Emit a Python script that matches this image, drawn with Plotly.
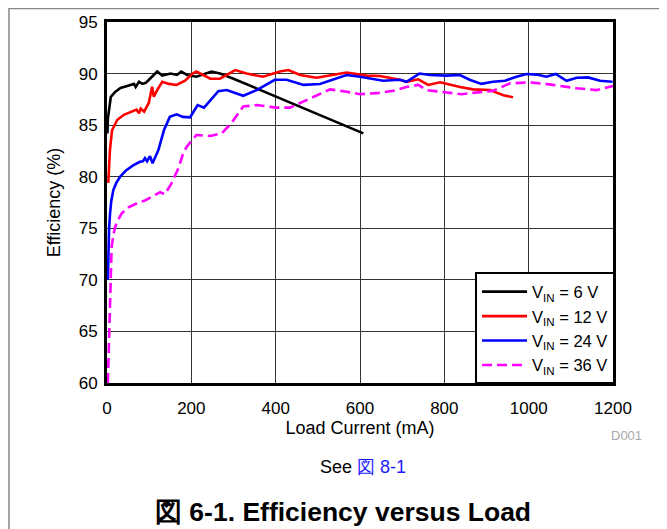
import plotly.graph_objects as go

# ---- data ----
x_6v = [1, 2, 5, 9, 20, 32, 48, 64, 68, 76, 84, 92, 103, 119, 131, 151, 166, 176, 190, 212, 248, 268, 300, 608]
y_6v = [84.2, 85.6, 86.5, 87.75, 88.25, 88.6, 88.8, 89.0, 88.7, 89.2, 89.0, 89.1, 89.55, 90.2, 89.8, 90.0, 89.87, 90.2, 89.87, 89.7, 90.2, 90.0, 89.5, 84.2]

x_12v = [3, 7, 12, 24, 40, 60, 70, 76, 80, 88, 99, 107, 111, 119, 131, 147, 165, 185, 203, 212, 245, 268, 304, 331, 370, 410, 430, 458, 497, 568, 616, 647, 695, 710, 738, 762, 790, 837, 868, 908, 940, 963]
y_12v = [79.4, 82.6, 84.5, 85.5, 86.0, 86.3, 86.5, 86.15, 86.6, 86.3, 87.15, 88.73, 87.76, 88.4, 89.2, 89.0, 88.9, 89.3, 90.0, 90.2, 89.5, 89.5, 90.34, 90.0, 89.7, 90.2, 90.34, 89.86, 89.6, 90.1, 89.8, 89.76, 89.4, 89.2, 89.44, 88.9, 89.15, 88.7, 88.47, 88.4, 87.9, 87.7]

x_24v = [2, 3, 5, 7, 10, 15, 22, 31, 45, 62, 78, 85, 90, 95, 102, 108, 122, 135, 149, 165, 180, 197, 215, 230, 264, 284, 323, 355, 398, 426, 466, 505, 537, 568, 600, 655, 695, 710, 741, 766, 805, 837, 860, 888, 915, 944, 971, 995, 1019, 1042, 1064, 1090, 1114, 1141, 1169, 1199]
y_24v = [70.0, 72.5, 75.0, 76.3, 77.6, 78.7, 79.4, 80.0, 80.6, 81.1, 81.45, 81.5, 81.8, 81.5, 82.0, 81.3, 82.6, 84.5, 85.8, 86.05, 85.8, 85.76, 86.95, 86.7, 88.3, 88.4, 87.85, 88.4, 89.4, 89.4, 88.9, 88.99, 89.4, 89.86, 89.7, 89.3, 89.4, 89.2, 90.0, 89.86, 89.8, 89.86, 89.4, 89.0, 89.2, 89.3, 89.7, 89.96, 89.9, 89.7, 89.96, 89.3, 89.6, 89.63, 89.3, 89.2]

x_36v = [2, 4, 5, 6, 7, 9, 11, 15, 19, 26, 35, 50, 70, 90, 114, 126, 137, 153, 169, 181, 189, 212, 245, 272, 295, 323, 355, 402, 434, 466, 497, 529, 568, 600, 639, 679, 710, 738, 758, 798, 841, 885, 916, 956, 1003, 1050, 1114, 1161, 1200]
y_36v = [60.0, 63.0, 65.1, 67.5, 69.6, 71.5, 73.2, 74.3, 75.1, 75.8, 76.45, 77.0, 77.4, 77.7, 78.2, 78.5, 78.3, 79.35, 80.8, 82.3, 82.9, 84.04, 83.95, 84.2, 85.2, 86.8, 86.95, 86.7, 86.7, 87.3, 87.9, 88.47, 88.24, 88.0, 88.1, 88.34, 88.7, 88.9, 88.4, 88.24, 88.0, 88.2, 88.34, 89.05, 89.15, 88.95, 88.57, 88.4, 88.8]

series_names = ["V<sub>IN</sub> = 6 V", "V<sub>IN</sub> = 12 V", "V<sub>IN</sub> = 24 V", "V<sub>IN</sub> = 36 V"]
series_x = [x_6v, x_12v, x_24v, x_36v]
series_y = [y_6v, y_12v, y_24v, y_36v]
series_colors = ["#000000", "#ff0000", "#0000ff", "#ff00ff"]
series_dash = ["solid", "solid", "solid", "10px,5px"]

x_ticks = [0, 200, 400, 600, 800, 1000, 1200]
y_ticks = [60, 65, 70, 75, 80, 85, 90, 95]

FONT = "Liberation Sans, Arial, sans-serif"

fig = go.Figure()
for name, xs, ys, c, d in zip(series_names, series_x, series_y, series_colors, series_dash):
    fig.add_trace(go.Scatter(x=xs, y=ys, mode="lines", name=name,
                             line=dict(color=c, width=2.6, dash=d)))

# page body has an 8px margin, so the figure is sized to fit the 667x529 window
fig.update_layout(
    width=659, height=521,
    margin=dict(l=99, r=54, t=14, b=146, autoexpand=False),
    paper_bgcolor="white", plot_bgcolor="white",
    font=dict(family=FONT, size=17, color="black"),
    showlegend=True,
    legend=dict(x=1.004, xanchor="right", y=-0.004, yanchor="bottom",
                bgcolor="white", bordercolor="black", borderwidth=2,
                font=dict(size=16.5), itemwidth=45, tracegroupgap=0),
    xaxis=dict(range=[0, 1200], tickvals=x_ticks, showgrid=True, gridcolor="#333333",
               gridwidth=1, zeroline=False, showline=True, linecolor="black", linewidth=3,
               mirror=True, ticks="", ticklabelstandoff=8,
               title=dict(text="Load Current (mA)", font=dict(size=18), standoff=0)),
    yaxis=dict(range=[60, 95], tickvals=y_ticks, showgrid=True, gridcolor="#333333",
               gridwidth=1, zeroline=False, showline=True, linecolor="black", linewidth=3,
               mirror=True, ticks="", ticklabelstandoff=3,
               title=dict(text="Efficiency (%)", font=dict(size=18), standoff=14)),
)

# outer figure border (gray), partly clipped like in the reference
fig.add_shape(type="rect", xref="paper", yref="paper",
              x0=-0.1937, x1=1.2, y0=-0.5, y1=1.0375,
              line=dict(color="#888888", width=1.5), layer="below")

fig.add_annotation(text="D001", xref="paper", yref="paper", x=1.0257, y=-0.1468,
                   xanchor="center", yanchor="middle",
                   showarrow=False, font=dict(size=13, color="#aaaaaa"))
fig.add_annotation(text="See <span style='color:#1a1aff'>図 8-1</span>", xref="paper", yref="paper",
                   x=0.506, y=-0.2327, xanchor="center", yanchor="middle",
                   showarrow=False, font=dict(size=18))
fig.add_annotation(text="<b>図 6-1. Efficiency versus Load</b>", xref="paper", yref="paper",
                   x=0.466, y=-0.357, xanchor="center", yanchor="middle",
                   showarrow=False, font=dict(size=26.5))

fig.write_html("out.html")
